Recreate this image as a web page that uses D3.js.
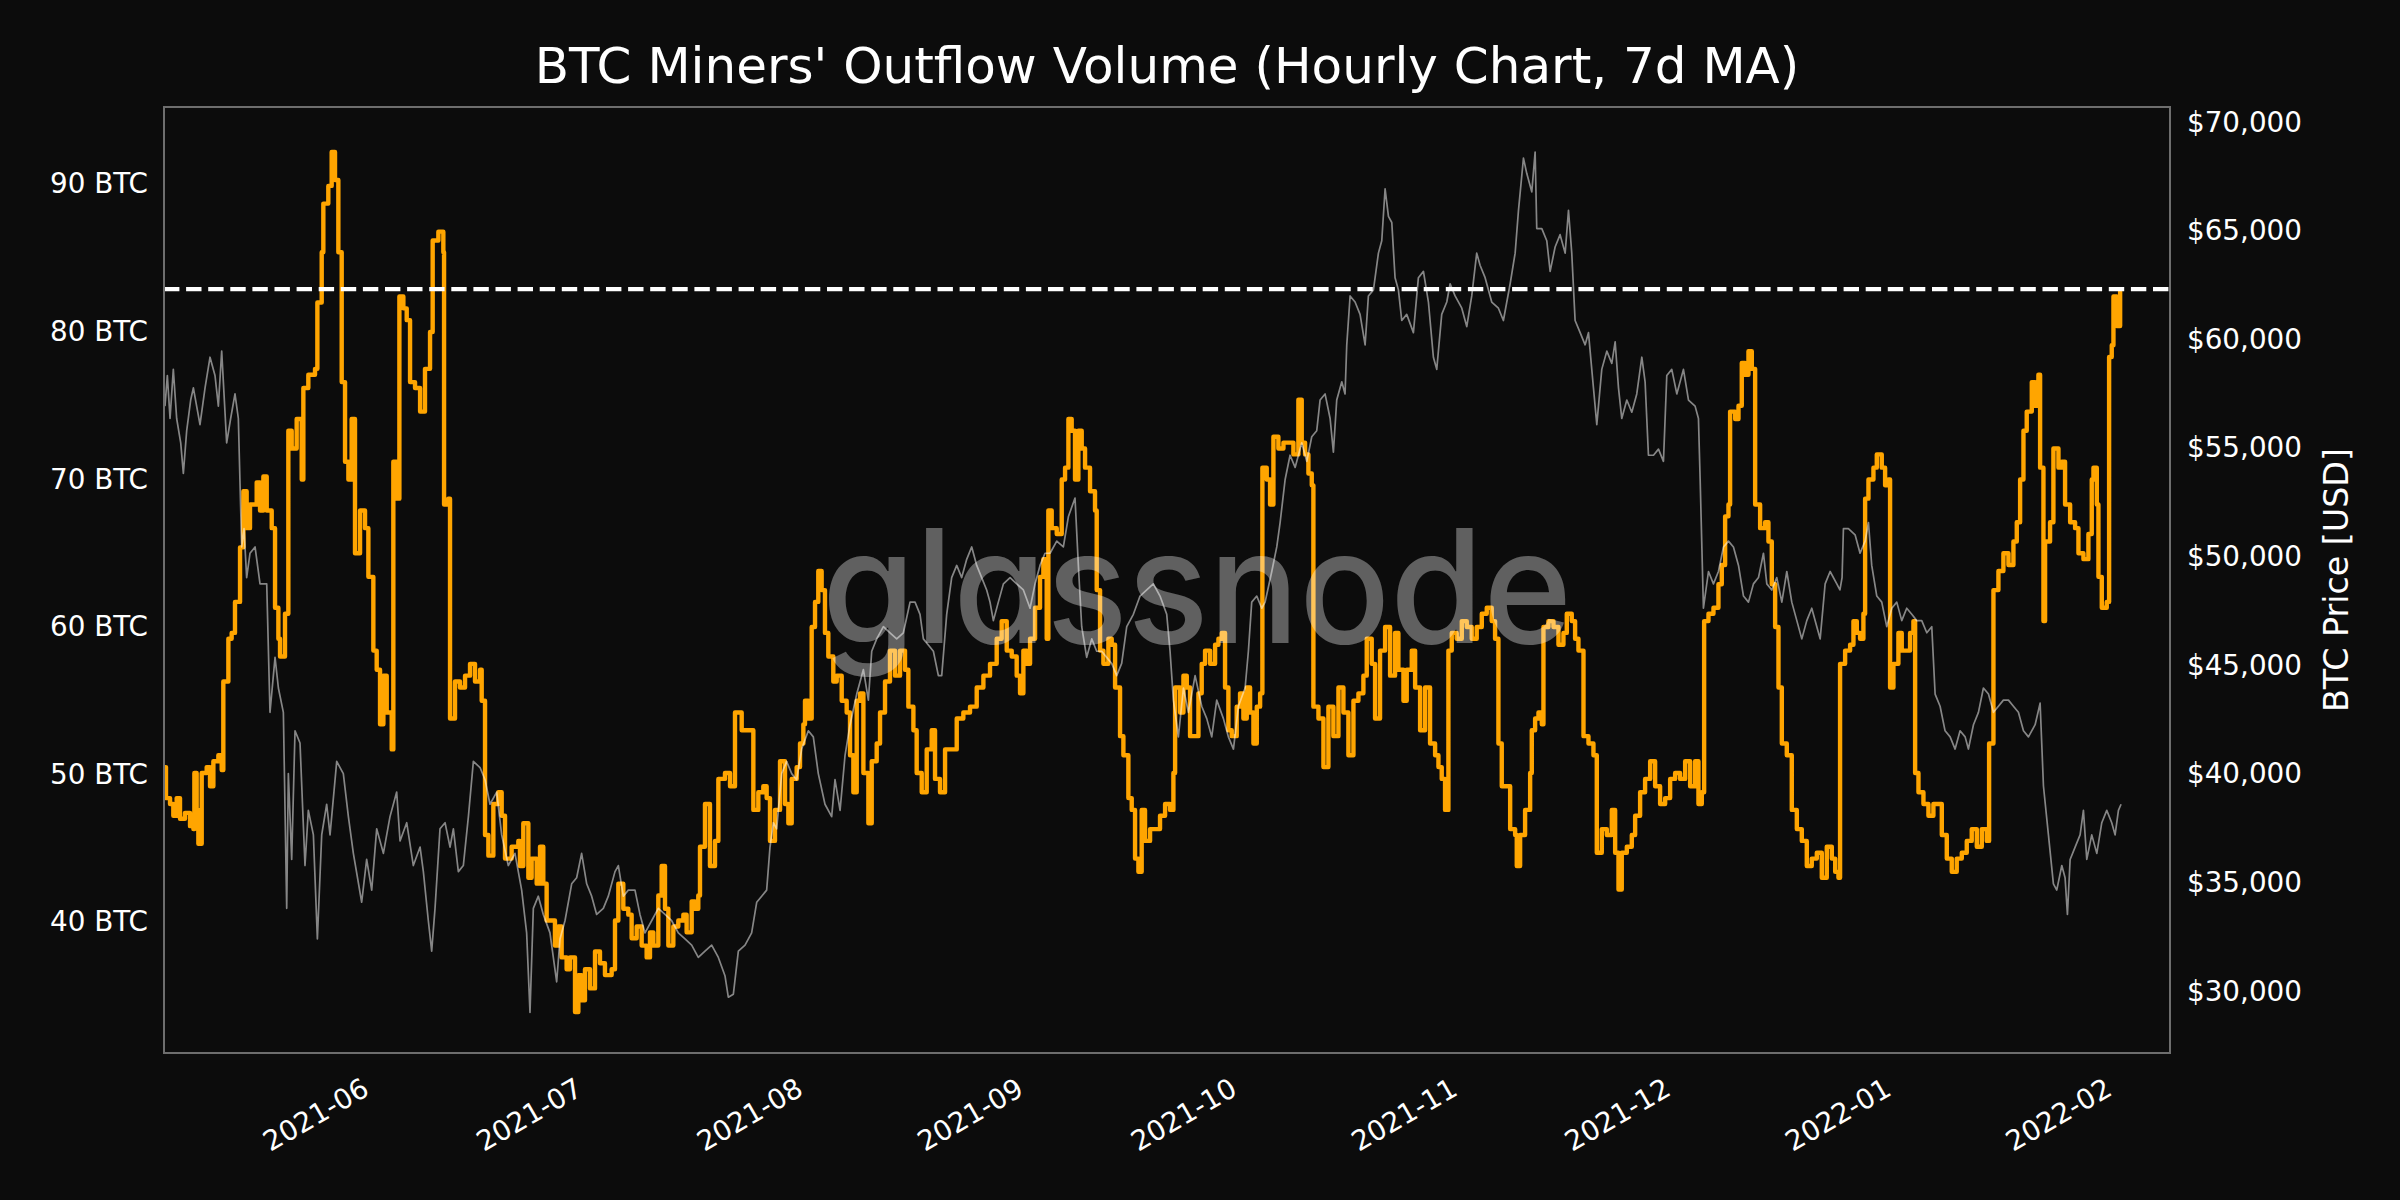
<!DOCTYPE html>
<html>
<head>
<meta charset="utf-8">
<script src="https://cdn.jsdelivr.net/npm/d3@7"></script>
<style>
  html, body { margin: 0; padding: 0; background: #0c0c0c; }
  svg { display: block; }
</style>
</head>
<body>
<svg id="chart" width="2400" height="1200"></svg>
<script>
// ---------------- DATA ----------------
const titleText = "BTC Miners' Outflow Volume (Hourly Chart, 7d MA)";
const startDate = "2021-05-02T00:00:00Z";   // day 0 of the series
const endDate = "2022-02-08T00:00:00Z";     // right end of the time axis
const thresholdBTC = 82.8;                  // dashed reference line
const btcTicks = [40, 50, 60, 70, 80, 90];
const priceTicks = [30000, 35000, 40000, 45000, 50000, 55000, 60000, 65000, 70000];
const monthTicks = ["2021-06", "2021-07", "2021-08", "2021-09", "2021-10", "2021-11", "2021-12", "2022-01", "2022-02"];
const priceAxisLabel = "BTC Price [USD]";
const watermark = "glassnode";

// Miners' outflow volume, 7d MA  [days since start, BTC]
const outflow = [
[0.14,50.4],[0.28,48.3],[0.85,47.9],[1.31,47.1],[1.78,48.3],[2.25,46.9],[2.95,47.3],[3.66,46.4],[4.13,46.2],[4.27,50.0],[4.59,47.5],[4.83,45.2],[5.30,50.0],[6.0,50.4],[6.47,49.1],[6.94,50.8],[7.64,51.2],[8.11,50.2],[8.34,56.2],[9.05,59.1],[9.51,59.5],[9.98,61.6],[10.69,65.3],[11.16,69.1],[11.62,66.6],[12.09,68.2],[13.03,69.7],[13.5,67.8],[13.97,70.1],[14.44,67.8],[15.14,66.6],[15.61,61.2],[16.08,59.1],[16.31,57.9],[17.01,60.8],[17.48,73.2],[17.95,72.0],[18.65,74.0],[19.36,69.9],[19.59,76.1],[20.29,77.0],[21.23,77.4],[21.56,81.9],[22.17,85.3],[22.4,88.6],[23.1,89.8],[23.57,92.1],[24.04,90.2],[24.51,85.3],[24.98,76.5],[25.45,71.1],[25.92,69.9],[26.38,74.0],[26.85,64.9],[27.56,67.8],[28.26,66.6],[28.73,63.3],[29.43,58.3],[29.9,57.0],[30.37,53.3],[30.84,56.6],[31.31,54.1],[32.01,51.6],[32.24,71.1],[32.71,68.6],[33.09,82.3],[33.65,81.5],[34.12,80.7],[34.59,76.5],[35.29,76.1],[36.0,74.5],[36.69,77.4],[37.4,79.9],[37.77,86.1],[38.57,86.7],[39.27,85.3],[39.37,68.2],[39.97,68.6],[40.21,53.7],[40.91,56.2],[41.61,55.8],[42.32,56.6],[43.02,57.4],[43.72,56.2],[44.43,57.0],[44.66,54.9],[45.13,45.8],[45.6,44.4],[46.3,47.9],[47.0,48.7],
[47.47,47.1],[47.94,44.2],[48.87,45.0],[49.81,45.4],[50.04,43.7],[50.51,46.6],[50.98,46.6],[51.22,42.9],[51.68,44.2],[52.39,42.5],[52.86,45.0],[53.32,42.5],[53.79,40.0],[54.5,40.0],[54.96,38.3],[55.43,39.6],[55.9,37.5],[56.6,36.7],[57.07,37.5],[57.78,33.8],[58.25,36.3],[58.71,34.6],[59.18,36.7],[59.89,35.4],[60.59,37.9],[61.29,37.1],[61.99,36.3],[62.93,36.7],[63.4,40.0],[63.87,42.5],[64.57,40.8],[65.27,40.4],[65.74,38.8],[66.45,39.6],[67.15,38.3],[67.85,37.5],[68.32,39.2],[68.79,38.3],[69.49,41.7],[69.96,43.7],[70.43,40.8],[70.9,38.3],[71.6,39.6],[72.3,40.0],[73.01,40.4],[73.47,39.2],[74.18,41.3],[74.65,40.8],[75.11,41.7],[75.35,45.0],[76.05,47.9],[76.75,43.7],[77.46,45.4],[77.93,49.6],[78.86,50.0],[79.57,49.1],[80.27,54.1],[81.21,52.9],[82.14,52.9],[82.85,47.5],[83.55,48.7],[84.25,49.1],[84.72,48.3],[85.19,45.4],[85.89,47.5],[86.6,50.8],[87.3,47.9],[87.77,46.6],[88.24,49.6],[88.94,50.4],[89.41,52.0],[89.88,53.3],[90.11,54.9],[90.58,53.7],[91.05,59.9],[91.52,61.6],[91.98,63.7],[92.45,62.4],[92.92,59.5],[93.39,57.9],[94.09,56.2],
[94.57,56.6],[95.27,54.9],[95.97,54.1],[96.44,51.2],[96.91,48.7],[97.38,54.9],[97.85,55.4],[98.32,50.0],[99.02,46.6],[99.49,50.8],[100.19,52.0],[100.66,54.1],[101.36,56.2],[102.06,58.3],[102.77,56.6],[103.47,58.3],[104.17,57.0],[104.64,54.5],[105.35,52.9],[105.81,50.0],[106.52,48.7],[107.22,51.6],[107.92,52.9],[108.39,49.6],[109.09,48.7],[109.8,51.6],[110.5,51.6],[111.44,53.7],[112.37,54.1],[113.31,54.5],[114.25,55.8],[115.19,56.6],[116.12,57.4],[117.06,59.1],[117.76,60.3],[118.47,58.3],[119.17,57.9],[119.87,56.6],[120.34,55.4],[120.81,58.3],[121.28,57.4],[121.75,59.1],[122.45,61.2],[123.15,63.3],[123.62,64.5],[124.09,59.1],[124.32,67.8],[124.79,66.6],[125.5,66.2],[126.2,69.9],[126.67,70.7],[127.14,74.0],[127.6,73.2],[128.07,69.9],[128.54,73.2],[129.01,72.0],[129.48,70.7],[130.18,69.1],[130.88,67.8],[131.12,62.4],[131.59,58.3],[132.06,57.4],[132.76,59.1],[133.23,58.7],[133.7,55.8],[134.4,52.5],[134.87,51.2],[135.57,48.3],[136.04,47.5],[136.51,44.2],[136.98,43.3],[137.44,47.5],[137.91,45.4],[138.62,46.2],[139.32,46.2],[140.02,47.1],[140.73,47.9],
[141.43,47.5],[141.9,50.0],[142.14,55.8],[142.84,54.1],[143.31,56.6],[143.78,55.8],[144.24,52.5],[144.95,52.5],[145.42,55.4],[145.88,57.4],[146.35,58.3],[147.06,57.4],[147.76,58.7],[148.23,59.1],[148.7,59.5],[149.16,55.8],[149.63,52.9],[150.1,52.5],[150.8,54.5],[151.27,55.4],[151.74,53.7],[152.21,55.8],[152.68,54.1],[153.15,52.0],[153.62,54.5],[154.09,55.4],[154.41,70.7],[155.02,69.9],[155.49,68.2],[155.96,72.8],[156.66,72.0],[157.37,72.4],[158.07,72.4],[158.77,71.6],[159.47,75.3],[159.94,72.4],[160.41,71.6],[160.88,70.3],[161.35,69.5],[161.58,54.5],[162.29,53.7],[162.99,50.4],[163.69,54.5],[164.39,52.5],[165.1,55.8],[165.8,54.1],[166.5,51.2],[167.21,54.9],[167.91,55.4],[168.61,56.6],[169.08,59.1],[169.78,57.4],[170.25,53.7],[170.95,58.3],[171.66,59.9],[172.36,56.6],[173.06,59.5],[173.53,57.0],[174.24,54.9],[174.7,57.0],[175.41,58.3],[175.88,55.8],[176.58,52.9],[177.28,55.8],[177.98,52.0],[178.69,51.2],[179.16,50.4],[179.62,49.6],[180.09,47.5],[180.56,58.3],[181.03,59.5],[181.73,59.1],[182.44,60.3],[183.14,59.9],[183.84,59.1],[184.54,59.9],[185.25,60.8],[185.95,61.2],[186.65,60.3],[187.12,59.1],[187.59,52.0],[188.06,49.1],
[188.53,49.1],[189.24,46.2],[189.94,45.8],[190.17,43.7],[190.64,45.8],[191.34,47.5],[192.05,50.0],[192.28,52.9],[192.75,53.7],[193.22,54.1],[193.69,53.3],[193.92,59.9],[194.62,60.3],[195.33,59.9],[196.03,58.7],[196.73,59.5],[197.2,60.8],[197.9,60.3],[198.37,59.1],[198.84,58.3],[199.31,58.3],[199.55,52.5],[200.25,52.0],[200.95,51.2],[201.42,44.6],[202.12,46.2],[202.83,45.8],[203.53,47.5],[204.0,44.6],[204.47,42.1],[204.93,44.6],[205.64,45.0],[206.34,45.8],[206.81,47.1],[207.51,48.7],[208.21,49.6],[208.92,50.8],[209.62,49.1],[210.32,47.9],[211.03,48.3],[211.73,49.6],[212.43,50.0],[213.13,49.6],[213.84,50.8],[214.54,49.1],[215.24,50.8],[215.71,47.9],[216.18,48.7],[216.51,60.3],[217.12,60.8],[217.82,61.2],[218.52,62.8],[218.99,64.1],[219.46,67.4],[219.93,68.2],[220.16,74.5],[220.87,74.0],[221.34,74.9],[221.8,77.8],[222.27,77.0],[222.74,78.6],[223.21,77.4],[223.68,68.2],[224.38,66.6],[225.08,67.0],[225.55,65.7],[226.02,62.8],[226.49,59.9],[226.96,55.8],[227.43,52.0],[228.13,51.2],[228.83,47.5],[229.54,46.2],[230.24,45.4],[230.94,43.7],[231.64,44.2],[232.35,44.6],[233.05,42.9],[233.75,45.0],[234.46,44.2],[234.93,43.3],
[235.39,42.9],[235.62,57.4],[236.33,58.3],[237.03,58.7],[237.5,60.3],[237.97,59.5],[238.43,59.1],[238.9,60.8],[239.14,68.6],[239.61,69.9],[240.31,70.7],[240.78,71.6],[241.48,70.7],[241.95,69.5],[242.42,69.9],[242.65,55.8],[243.12,57.4],[243.82,59.5],[244.29,58.3],[244.99,58.3],[245.46,59.5],[245.93,60.3],[246.17,50.0],[246.64,48.7],[247.34,47.9],[248.04,47.1],[248.74,47.9],[249.21,47.9],[249.92,45.8],[250.62,44.2],[251.32,43.3],[252.02,44.2],[252.73,44.6],[253.43,45.4],[254.13,46.2],[254.84,45.0],[255.54,46.2],[256.24,45.4],[256.57,52.0],[257.18,62.4],[257.88,63.7],[258.58,64.9],[259.29,64.1],[259.99,65.7],[260.46,67.0],[260.93,69.9],[261.4,73.2],[261.86,74.5],[262.57,76.5],[263.04,74.9],[263.5,77.0],[263.74,70.7],[264.21,60.3],[264.44,65.7],[265.14,67.0],[265.61,72.0],[266.32,70.7],[266.79,71.1],[267.25,68.2],[267.96,67.0],[268.66,66.6],[269.13,64.9],[269.83,64.5],[270.53,66.2],[271.0,69.9],[271.24,70.7],[271.71,68.2],[271.94,63.3],[272.41,61.2],[273.11,61.6],[273.44,78.2],[273.81,79.0],[274.05,82.3],[274.52,80.3],[274.99,82.8]
];

// BTC price  [days since start, USD]
const price = [
[0.14,56880],[0.47,58290],[0.85,56310],[1.31,58570],[1.78,56310],[2.35,55190],[2.72,53780],[3.19,55750],[3.75,57160],[4.13,57720],[4.59,56880],[5.06,56030],[5.77,57720],[6.47,59130],[7.17,58290],[7.64,56880],[8.11,59410],[8.81,55190],[9.37,56310],[9.98,57440],[10.45,56310],[10.92,50400],[11.25,51240],[11.62,48990],[12.09,50110],[12.8,50400],[13.5,48700],[14.44,48700],[14.9,42790],[15.61,45320],[16.08,43910],[16.78,42790],[17.25,33770],[17.48,39970],[17.95,36020],[18.42,41940],[19.12,41380],[19.82,35740],[20.29,38280],[21.0,37150],[21.56,32360],[22.17,37150],[22.87,38560],[23.34,37150],[24.28,40530],[25.21,39970],[25.92,37990],[26.62,36300],[27.79,34050],[28.49,36020],[29.2,34610],[29.9,37430],[30.84,36300],[31.77,37990],[32.71,39120],[33.18,36870],[34.12,37710],[35.05,35740],[36.0,36590],[36.46,35460],[37.16,33200],[37.63,31800],[38.1,33770],[38.8,37430],[39.51,37710],[40.21,36590],[40.68,37430],[41.38,35460],[42.08,35740],[42.79,37990],[43.49,40530],[44.43,40250],[45.13,39690],[45.83,38560],[46.77,39120],
[47.47,37150],[48.4,35740],[49.34,36300],[50.28,34610],[50.98,32640],[51.45,28980],[51.92,33770],[52.62,34330],[53.32,33490],[54.26,32640],[55.2,30390],[55.67,32360],[56.37,33200],[57.31,34900],[58.01,35180],[58.71,36300],[59.42,34900],[60.12,34330],[60.82,33490],[61.76,33770],[62.46,34330],[63.4,35460],[63.87,35740],[64.57,34330],[65.27,34610],[66.21,34610],[66.91,33490],[67.62,32640],[68.55,33200],[69.49,33770],[70.43,33490],[71.37,33200],[72.3,32640],[73.24,32360],[74.18,32080],[75.11,31510],[76.05,31800],[76.99,32080],[77.93,31510],[78.86,30670],[79.33,29680],[80.04,29820],[80.74,31800],[81.68,32080],[82.61,32640],[83.32,34050],[84.02,34330],[84.72,34610],[85.19,36590],[85.66,37710],[86.13,37430],[86.83,39970],[87.53,40530],[88.24,39970],[88.94,39690],[89.64,41100],[90.58,41940],[91.28,41660],[91.98,39970],[92.92,38560],[93.86,37990],
[94.33,39690],[95.04,38280],[95.74,40810],[96.44,42220],[97.38,43630],[98.32,44760],[99.02,43350],[99.49,45600],[100.19,46170],[101.13,46730],[102.06,46450],[103.0,46170],[103.94,46450],[104.88,47860],[105.58,47860],[106.28,47300],[106.75,46170],[107.45,45890],[108.16,45600],[108.86,44480],[109.33,44480],[110.03,47300],[110.73,48990],[111.44,49550],[112.14,48990],[112.84,49830],[113.55,50400],[114.25,49550],[114.95,48990],[115.65,48420],[116.12,47860],[116.59,47010],[117.29,47860],[118.0,48700],[118.94,48990],[119.87,48700],[120.81,48420],[121.75,47580],[122.45,48700],[123.15,49550],[123.85,50110],[124.56,50110],[125.5,50670],[126.43,50400],[127.14,51800],[128.07,52650],[128.54,49550],[129.01,46730],[129.71,45320],[130.42,46170],[131.12,45600],[131.82,45600],[132.52,45320],[133.23,45040],[133.93,44480],[134.63,45040],[135.34,46730],[136.27,47300],[137.21,48140],[138.15,48420],[139.08,48700],[140.02,48140],[140.96,47300],
[141.43,45600],[141.9,43350],[142.6,41660],[143.31,43910],[144.01,42790],[144.95,44480],[145.88,43070],[146.59,42500],[147.29,41660],[147.99,43350],[148.93,42500],[149.63,41660],[150.34,41100],[151.04,43070],[151.98,43910],[152.44,45600],[152.91,47860],[153.62,48140],[154.32,47580],[154.79,47860],[155.73,49270],[156.43,50400],[156.9,51520],[157.6,53490],[158.3,54620],[159.01,54060],[159.94,55190],[160.65,54340],[161.35,55470],[162.05,55750],[162.52,57160],[163.22,57440],[163.93,56310],[164.39,54760],[164.86,57160],[165.57,58000],[166.03,57440],[166.27,59700],[166.74,61950],[167.44,61670],[168.14,61100],[168.85,59700],[169.31,61950],[170.02,62230],[170.72,63920],[171.19,64490],[171.66,66880],[172.13,65610],[172.6,65330],[173.06,62790],[173.53,62230],[174.0,60820],[174.7,61100],[175.64,60260],[176.34,62790],[177.05,63080],[177.75,61670],[178.45,59130],[178.92,58570],[179.62,61100],[180.33,61670],[180.8,62510],[181.5,61950],[182.44,61385],[183.14,60540],[183.84,61950],[184.54,63920],[185.01,63360],[185.72,62790],[186.65,61670],[187.59,61385],[188.29,60820],
[189.24,62510],[189.94,63920],[190.41,65890],[191.11,68290],[191.58,67580],[192.28,66740],[192.75,68570],[192.98,65050],[193.69,65050],[194.39,64490],[194.86,63080],[195.56,64200],[196.26,64770],[196.97,63920],[197.44,65890],[197.9,63920],[198.37,60820],[199.08,60260],[199.78,59700],[200.25,60260],[200.95,57720],[201.42,56030],[202.12,58570],[202.83,59410],[203.53,58850],[204.0,59840],[204.47,57720],[204.93,56310],[205.64,57160],[206.34,56600],[207.04,57440],[207.75,59130],[208.21,58000],[208.68,54620],[209.39,54620],[210.09,54900],[210.79,54340],[211.26,58290],[211.96,58570],[212.67,57440],[213.6,58570],[214.31,57160],[215.24,56880],[215.71,56310],[215.95,53490],[216.41,47580],[217.12,49270],[217.82,48700],[218.52,49270],[219.23,50400],[219.93,50670],[220.63,50400],[221.34,49550],[222.04,48140],[222.74,47860],[223.44,48700],[224.15,48990],[224.85,50110],[225.32,48700],[226.02,48420],[226.72,48990],[227.43,47860],[228.13,49270],[228.83,47860],[229.54,47010],[230.24,46170],[230.94,47010],[231.64,47580],[232.35,46730],[232.82,46170],[233.52,48700],[234.22,49270],[235.16,48700],
[235.6,48420],[235.9,48990],[236.09,51240],[236.79,51240],[237.73,50960],[238.43,50110],[239.14,50670],[239.61,51520],[240.07,49550],[240.78,48140],[241.48,47860],[242.18,46730],[242.89,47580],[243.59,47860],[244.29,47010],[244.99,47580],[245.7,47300],[246.4,47010],[247.1,47010],[247.81,46450],[248.51,46730],[248.98,43630],[249.68,43070],[250.38,41940],[251.09,41660],[251.79,41100],[252.49,41940],[253.2,41660],[253.66,41100],[254.37,42220],[255.07,42790],[255.77,43910],[256.48,43630],[257.18,42790],[257.88,43070],[258.58,43350],[259.29,43350],[259.99,43070],[260.69,42790],[261.4,41940],[262.1,41660],[263.04,42220],[263.74,43210],[264.21,39400],[264.91,37150],[265.61,34900],[266.08,34610],[266.79,35740],[267.25,35180],[267.58,33490],[267.96,36020],[268.66,36590],[269.36,37150],[269.83,38280],[270.3,36020],[271.0,37150],[271.71,36300],[272.41,37710],[273.11,38280],[273.81,37710],[274.28,37150],[274.75,38280],[275.12,38560]
];

// ---------------- LAYOUT ----------------
const W = 2400, H = 1200;
const M = { left: 164, right: 2170, top: 107, bottom: 1053 };
const t0 = new Date(startDate).getTime();
const DAY = 86400000;
const toDate = d => new Date(t0 + d * DAY);

const svg = d3.select("#chart");
svg.append("rect").attr("width", W).attr("height", H).attr("fill", "#0c0c0c");

const x = d3.scaleUtc().domain([new Date(startDate), new Date(endDate)]).range([M.left, M.right]);
const yBTC = d3.scaleLinear().domain([31.02, 95.15]).range([M.bottom, M.top]);
const yUSD = d3.scaleLinear().domain([27114, 70644]).range([M.bottom, M.top]);

const font = "'DejaVu Sans', sans-serif";

// title
svg.append("text")
  .attr("x", (M.left + M.right) / 2).attr("y", 83)
  .attr("text-anchor", "middle")
  .attr("fill", "#ffffff")
  .attr("font-family", font).attr("font-size", 50)
  .text(titleText);

const plot = svg.append("g");
plot.append("clipPath").attr("id", "clip")
  .append("rect").attr("x", M.left).attr("y", M.top)
  .attr("width", M.right - M.left).attr("height", M.bottom - M.top);

// outflow line (stepped, hourly MA look)
const lineBTC = d3.line().curve(d3.curveStepAfter)
  .x(d => x(toDate(d[0]))).y(d => yBTC(d[1]));
plot.append("path").datum(outflow)
  .attr("clip-path", "url(#clip)")
  .attr("d", lineBTC)
  .attr("fill", "none").attr("stroke", "#ffa500")
  .attr("stroke-width", 4.4).attr("stroke-linejoin", "round");

// price line
const lineUSD = d3.line().x(d => x(toDate(d[0]))).y(d => yUSD(d[1]));
plot.append("path").datum(price)
  .attr("clip-path", "url(#clip)")
  .attr("d", lineUSD)
  .attr("fill", "none").attr("stroke", "#ffffff").attr("stroke-opacity", 0.5)
  .attr("stroke-width", 1.7).attr("stroke-linejoin", "round");

// threshold dashed line
plot.append("line")
  .attr("x1", M.left).attr("x2", M.right)
  .attr("y1", yBTC(thresholdBTC)).attr("y2", yBTC(thresholdBTC))
  .attr("stroke", "#ffffff").attr("stroke-width", 4.2)
  .attr("stroke-dasharray", "15.4 6.7");

// watermark
svg.append("text")
  .attr("x", 1197).attr("y", 643)
  .attr("text-anchor", "middle")
  .attr("font-family", "Inter, Roboto, sans-serif")
  .attr("font-weight", 500)
  .attr("font-size", 158)
  .style("font-feature-settings", "'cv11' 1")
  .attr("textLength", 750).attr("lengthAdjust", "spacingAndGlyphs")
  .attr("fill", "#ffffff").attr("fill-opacity", 0.35)
  .text(watermark);

// frame
svg.append("rect")
  .attr("x", M.left).attr("y", M.top)
  .attr("width", M.right - M.left).attr("height", M.bottom - M.top)
  .attr("fill", "none").attr("stroke", "#6e6e6e").attr("stroke-width", 2);

// left axis
const leftAxis = d3.axisLeft(yBTC).tickValues(btcTicks).tickSize(0).tickPadding(16)
  .tickFormat(d => d + " BTC");
const gl = svg.append("g").attr("transform", `translate(${M.left},0)`).call(leftAxis);
gl.select(".domain").remove();
gl.selectAll("text").attr("fill", "#ffffff").attr("font-family", font).attr("font-size", 27.8).attr("dy", "0.36em");

// right axis
const fmtUSD = d3.format("$,");
const rightAxis = d3.axisRight(yUSD).tickValues(priceTicks).tickSize(0).tickPadding(17)
  .tickFormat(d => fmtUSD(d));
const gr = svg.append("g").attr("transform", `translate(${M.right},0)`).call(rightAxis);
gr.select(".domain").remove();
gr.selectAll("text").attr("fill", "#ffffff").attr("font-family", font).attr("font-size", 27.8).attr("dy", "0.36em");

// right axis label
svg.append("text")
  .attr("transform", `translate(2348, ${(M.top + M.bottom) / 2}) rotate(-90)`)
  .attr("text-anchor", "middle")
  .attr("fill", "#ffffff").attr("font-family", font).attr("font-size", 33.3)
  .text(priceAxisLabel);

// bottom axis (month ticks)
const parseMonth = d3.utcParse("%Y-%m");
const monthDates = monthTicks.map(parseMonth);
const bottomAxis = d3.axisBottom(x).tickValues(monthDates).tickSize(0).tickFormat(d3.utcFormat("%Y-%m"));
const gb = svg.append("g").attr("transform", `translate(0,${M.bottom})`).call(bottomAxis);
gb.select(".domain").remove();
gb.selectAll(".tick text")
  .attr("fill", "#ffffff").attr("font-family", font).attr("font-size", 27.8)
  .attr("text-anchor", "end")
  .attr("x", 0).attr("y", 0).attr("dy", 0)
  .attr("transform", "translate(-7, 41) rotate(-30)");
</script>
</body>
</html>
